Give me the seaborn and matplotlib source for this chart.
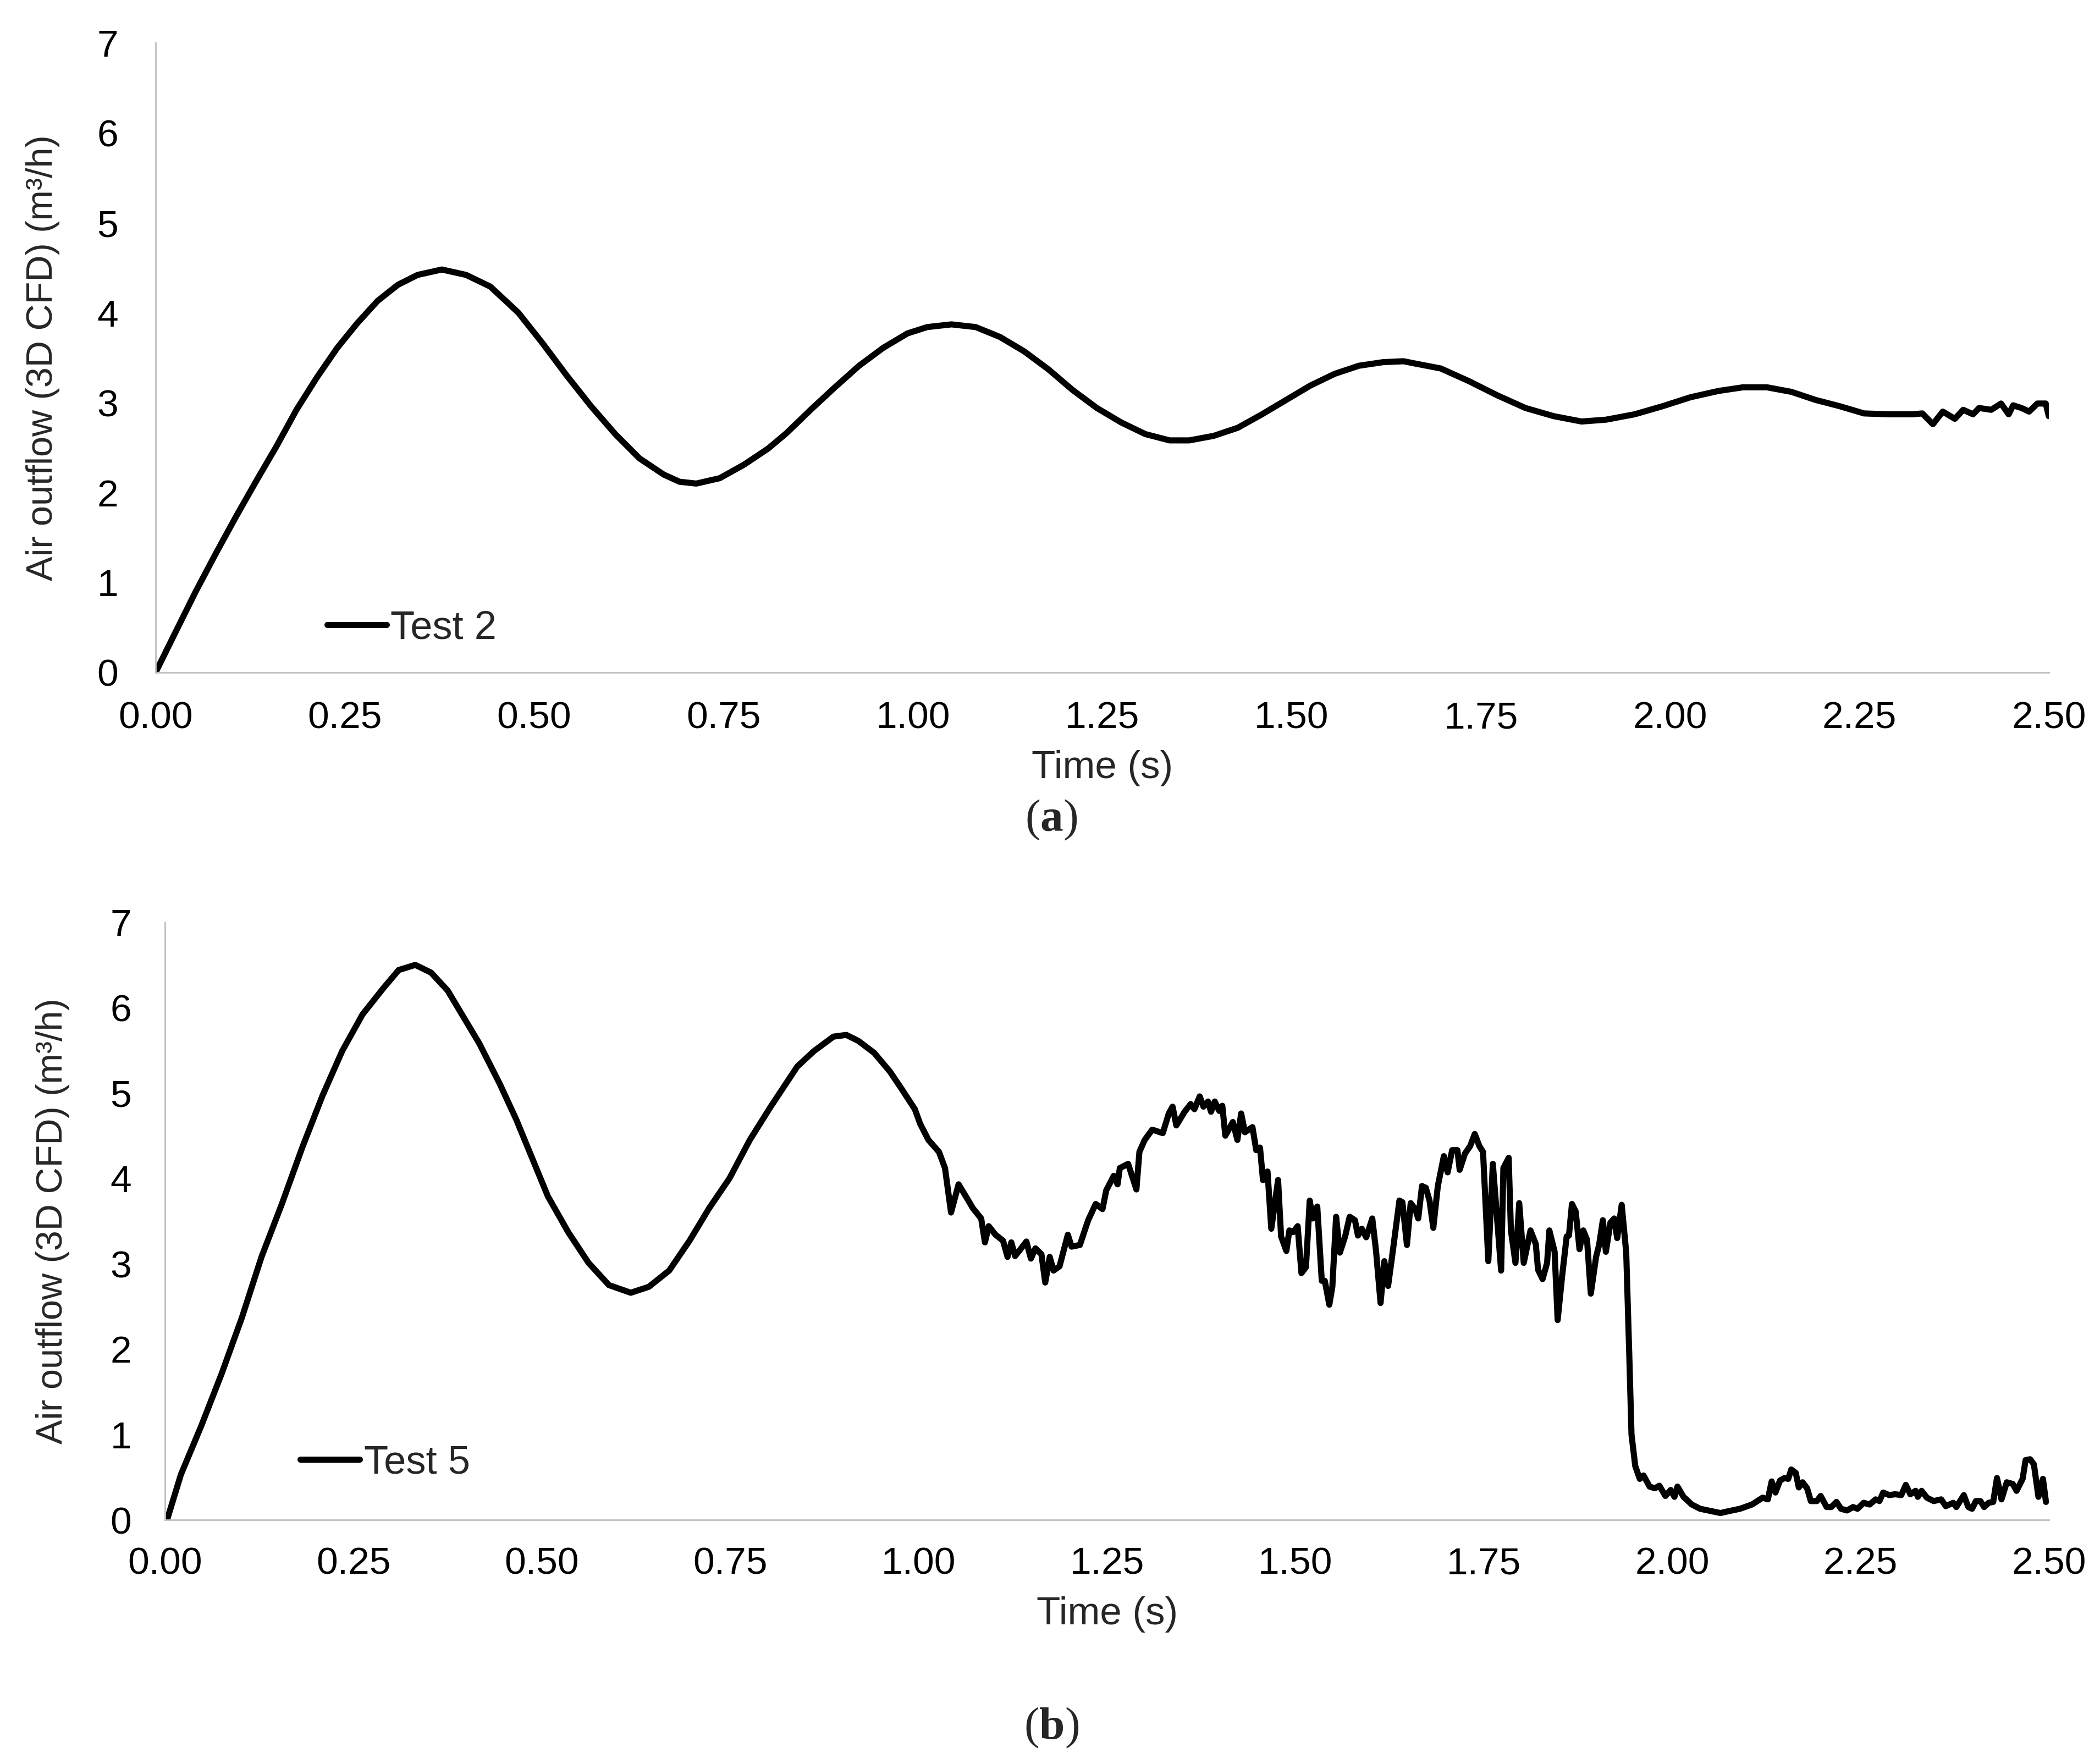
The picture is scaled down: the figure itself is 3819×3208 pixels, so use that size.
"""
Air outflow (3D CFD) vs time for Test 2 and Test 5
"""

import matplotlib
matplotlib.use('Agg')
import matplotlib.pyplot as plt
import seaborn as sns

# Test 2 (panel a)
t_test2 = [0.000, 0.027, 0.053, 0.080, 0.106, 0.133, 0.160, 0.186, 0.213, 0.240,
           0.266, 0.293, 0.320, 0.346, 0.378, 0.410, 0.442, 0.479, 0.511, 0.543,
           0.575, 0.607, 0.639, 0.671, 0.692, 0.714, 0.745, 0.777, 0.809, 0.833,
           0.865, 0.897, 0.929, 0.961, 0.993, 1.019, 1.051, 1.083, 1.115, 1.147,
           1.179, 1.211, 1.243, 1.275, 1.307, 1.339, 1.365, 1.397, 1.429, 1.461,
           1.493, 1.525, 1.557, 1.589, 1.621, 1.648, 1.666, 1.697, 1.734, 1.772,
           1.809, 1.846, 1.883, 1.915, 1.953, 1.990, 2.027, 2.064, 2.096, 2.128,
           2.160, 2.192, 2.224, 2.256, 2.288, 2.320, 2.333, 2.347, 2.360, 2.376,
           2.387, 2.400, 2.408, 2.424, 2.437, 2.447, 2.453, 2.464, 2.474, 2.485,
           2.496, 2.500]
q_test2 = [0.00, 0.46, 0.90, 1.33, 1.73, 2.13, 2.52, 2.92, 3.28, 3.61,
           3.88, 4.13, 4.31, 4.42, 4.48, 4.42, 4.29, 4.00, 3.66, 3.30,
           2.96, 2.65, 2.38, 2.20, 2.12, 2.10, 2.16, 2.31, 2.49, 2.66,
           2.92, 3.17, 3.41, 3.61, 3.77, 3.84, 3.87, 3.84, 3.73, 3.57,
           3.37, 3.14, 2.94, 2.78, 2.65, 2.58, 2.58, 2.63, 2.72, 2.87,
           3.03, 3.19, 3.32, 3.41, 3.45, 3.46, 3.43, 3.38, 3.24, 3.08,
           2.94, 2.85, 2.79, 2.81, 2.87, 2.96, 3.06, 3.13, 3.17, 3.17,
           3.12, 3.03, 2.96, 2.88, 2.87, 2.87, 2.88, 2.76, 2.90, 2.82,
           2.92, 2.87, 2.94, 2.92, 2.99, 2.87, 2.97, 2.94, 2.90, 2.99,
           2.99, 2.85]

# Test 5 (panel b)
t_test5 = [0.003, 0.021, 0.048, 0.075, 0.102, 0.128, 0.155, 0.182, 0.209, 0.235,
           0.262, 0.289, 0.310, 0.332, 0.353, 0.375, 0.396, 0.417, 0.444, 0.466,
           0.487, 0.508, 0.535, 0.562, 0.589, 0.618, 0.642, 0.669, 0.696, 0.722,
           0.749, 0.776, 0.803, 0.824, 0.839, 0.861, 0.887, 0.904, 0.920, 0.941,
           0.962, 0.978, 0.995, 1.002, 1.013, 1.027, 1.035, 1.043, 1.053, 1.064,
           1.072, 1.083, 1.088, 1.093, 1.102, 1.112, 1.118, 1.123, 1.128, 1.136,
           1.143, 1.149, 1.155, 1.163, 1.168, 1.174, 1.179, 1.187, 1.198, 1.203,
           1.214, 1.225, 1.235, 1.244, 1.249, 1.259, 1.264, 1.267, 1.278, 1.289,
           1.293, 1.300, 1.310, 1.324, 1.332, 1.337, 1.342, 1.353, 1.361, 1.366,
           1.373, 1.378, 1.384, 1.388, 1.393, 1.399, 1.403, 1.407, 1.417, 1.423,
           1.428, 1.433, 1.443, 1.448, 1.453, 1.457, 1.463, 1.468, 1.477, 1.481,
           1.488, 1.492, 1.497, 1.503, 1.508, 1.514, 1.519, 1.523, 1.529, 1.535,
           1.539, 1.545, 1.549, 1.554, 1.559, 1.566, 1.572, 1.579, 1.583, 1.588,
           1.594, 1.602, 1.607, 1.613, 1.618, 1.623, 1.629, 1.638, 1.642, 1.648,
           1.653, 1.659, 1.663, 1.668, 1.673, 1.678, 1.683, 1.689, 1.697, 1.702,
           1.708, 1.715, 1.718, 1.725, 1.732, 1.738, 1.744, 1.749, 1.756, 1.762,
           1.773, 1.776, 1.783, 1.786, 1.792, 1.797, 1.803, 1.812, 1.819, 1.822,
           1.828, 1.834, 1.837, 1.844, 1.848, 1.854, 1.860, 1.863, 1.867, 1.872,
           1.877, 1.882, 1.887, 1.892, 1.899, 1.903, 1.908, 1.912, 1.918, 1.923,
           1.927, 1.933, 1.939, 1.943, 1.946, 1.951, 1.957, 1.962, 1.970, 1.977,
           1.983, 1.991, 1.998, 2.003, 2.007, 2.015, 2.026, 2.037, 2.053, 2.064,
           2.074, 2.090, 2.106, 2.120, 2.127, 2.132, 2.137, 2.143, 2.149, 2.154,
           2.158, 2.164, 2.168, 2.173, 2.179, 2.184, 2.192, 2.197, 2.205, 2.211,
           2.218, 2.224, 2.232, 2.240, 2.246, 2.254, 2.262, 2.270, 2.275, 2.280,
           2.288, 2.296, 2.304, 2.310, 2.316, 2.323, 2.326, 2.331, 2.338, 2.347,
           2.357, 2.363, 2.373, 2.377, 2.387, 2.393, 2.398, 2.403, 2.409, 2.414,
           2.420, 2.426, 2.431, 2.437, 2.444, 2.452, 2.457, 2.465, 2.469, 2.475,
           2.480, 2.486, 2.492, 2.496]
q_test5 = [0.01, 0.53, 1.10, 1.71, 2.37, 3.08, 3.70, 4.36, 4.97, 5.49,
           5.92, 6.22, 6.44, 6.50, 6.41, 6.20, 5.89, 5.58, 5.11, 4.69,
           4.24, 3.79, 3.37, 3.01, 2.75, 2.66, 2.73, 2.92, 3.27, 3.65,
           4.00, 4.45, 4.83, 5.11, 5.31, 5.49, 5.66, 5.68, 5.61, 5.47,
           5.25, 5.04, 4.81, 4.64, 4.45, 4.31, 4.12, 3.60, 3.93, 3.77,
           3.65, 3.53, 3.25, 3.44, 3.34, 3.27, 3.08, 3.25, 3.09, 3.18,
           3.26, 3.06, 3.18, 3.11, 2.78, 3.08, 2.92, 2.97, 3.34, 3.20,
           3.22, 3.51, 3.70, 3.64, 3.86, 4.03, 3.93, 4.12, 4.17, 3.87,
           4.31, 4.45, 4.57, 4.53, 4.76, 4.84, 4.62, 4.78, 4.87, 4.81,
           4.96, 4.84, 4.90, 4.78, 4.90, 4.79, 4.85, 4.50, 4.66, 4.45,
           4.76, 4.54, 4.60, 4.33, 4.36, 3.98, 4.08, 3.41, 3.98, 3.32,
           3.15, 3.39, 3.37, 3.44, 2.89, 2.96, 3.74, 3.53, 3.67, 2.80,
           2.80, 2.52, 2.73, 3.55, 3.13, 3.32, 3.55, 3.51, 3.33, 3.41,
           3.31, 3.53, 3.15, 2.54, 3.03, 2.74, 3.13, 3.74, 3.72, 3.22,
           3.71, 3.64, 3.53, 3.91, 3.89, 3.74, 3.42, 3.91, 4.26, 4.07,
           4.33, 4.33, 4.10, 4.29, 4.38, 4.52, 4.38, 4.31, 3.03, 4.17,
           2.92, 4.12, 4.24, 3.39, 3.01, 3.71, 3.01, 3.39, 3.23, 2.93,
           2.82, 3.01, 3.39, 3.14, 2.34, 2.86, 3.32, 3.33, 3.70, 3.61,
           3.17, 3.39, 3.28, 2.65, 3.08, 3.22, 3.51, 3.14, 3.48, 3.53,
           3.30, 3.69, 3.13, 1.95, 1.00, 0.63, 0.48, 0.52, 0.39, 0.37,
           0.40, 0.28, 0.35, 0.27, 0.39, 0.27, 0.18, 0.13, 0.10, 0.08,
           0.10, 0.13, 0.18, 0.26, 0.24, 0.45, 0.32, 0.46, 0.49, 0.48,
           0.59, 0.55, 0.38, 0.44, 0.37, 0.22, 0.22, 0.28, 0.15, 0.15,
           0.21, 0.13, 0.11, 0.15, 0.13, 0.20, 0.18, 0.24, 0.22, 0.32,
           0.29, 0.30, 0.29, 0.41, 0.30, 0.34, 0.27, 0.34, 0.26, 0.22,
           0.24, 0.16, 0.20, 0.15, 0.29, 0.15, 0.13, 0.22, 0.22, 0.15,
           0.20, 0.21, 0.49, 0.24, 0.44, 0.42, 0.34, 0.48, 0.70, 0.71,
           0.65, 0.27, 0.48, 0.21]

x_ticks = [0.00, 0.25, 0.50, 0.75, 1.00, 1.25, 1.50, 1.75, 2.00, 2.25, 2.50]
y_ticks = [0, 1, 2, 3, 4, 5, 6, 7]

sns.set_style('white')
plt.rcParams['font.family'] = ['Liberation Sans', 'DejaVu Sans']
plt.rcParams['mathtext.fontset'] = 'custom'
plt.rcParams['mathtext.rm'] = 'Liberation Serif'
plt.rcParams['mathtext.bf'] = 'Liberation Serif:bold'

fig = plt.figure(figsize=(38.19, 32.08), dpi=100)
ax_a = fig.add_axes([0.0741, 0.6188, 0.9015, 0.3569])
ax_b = fig.add_axes([0.0786, 0.1384, 0.8971, 0.3388])

panels = [
    (ax_a, t_test2, q_test2, 'Test 2', (0.0906, 0.070), 49, 37, -0.123),
    (ax_b, t_test5, q_test5, 'Test 5', (0.0718, 0.095), 44, 35, -0.128),
]

for ax, t, q, name, leg_pos, ypad, xpad, xlab_y in panels:
    sns.lineplot(x=t, y=q, ax=ax, color='black', linewidth=8,
                 label=name, estimator=None, sort=False)
    ax.set_xlim(0, 2.5)
    ax.set_ylim(0, 7)
    ax.set_xticks(x_ticks)
    ax.set_xticklabels([f'{v:.2f}' for v in x_ticks])
    ax.set_yticks(y_ticks)
    ax.set_yticklabels([str(v) for v in y_ticks])
    ax.tick_params(axis='both', length=0, labelsize=50, colors='black')
    ax.tick_params(axis='y', pad=ypad)
    ax.tick_params(axis='x', pad=xpad)
    for side in ['top', 'right']:
        ax.spines[side].set_visible(False)
    for side in ['left', 'bottom']:
        ax.spines[side].set_color('#bfbfbf')
        ax.spines[side].set_linewidth(2)
    ax.set_xlabel('Time (s)', fontsize=51)
    ax.set_ylabel('Air outflow (3D CFD) (m³/h)', fontsize=48)
    ax.xaxis.set_label_coords(0.5, xlab_y)
    ax.yaxis.set_label_coords(-0.0505, 0.5)
    ax.legend(loc='center left', bbox_to_anchor=leg_pos, frameon=False,
              fontsize=52, handlelength=1.5, handletextpad=0.1,
              borderpad=0, borderaxespad=0)

fig.text(0.5007, 0.535, r'($\mathbf{a}$)', ha='center', va='center',
         fontsize=60, family='Liberation Serif')
fig.text(0.5007, 0.0206, r'($\mathbf{b}$)', ha='center', va='center',
         fontsize=60, family='Liberation Serif')

plt.savefig('out.png', dpi=100)
